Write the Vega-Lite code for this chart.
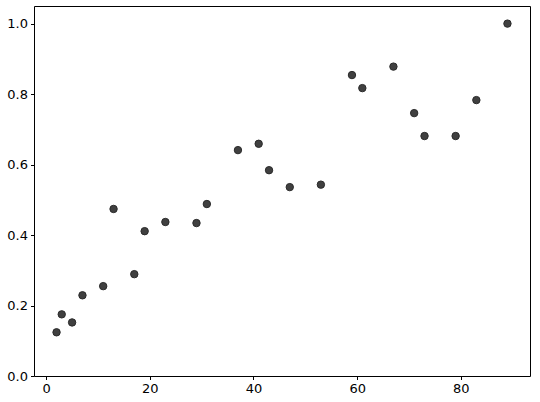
{
  "$schema": "https://vega.github.io/schema/vega-lite/v6.json",
  "autosize": {"type": "none"},
  "width": 496,
  "height": 370,
  "padding": {"left": 34, "top": 6, "right": 10, "bottom": 26},
  "background": "white",
  "config": {
    "view": {"stroke": "black", "strokeWidth": 1},
    "axis": {
      "labelFont": "DejaVu Sans",
      "labelFontSize": 13,
      "labelColor": "black",
      "tickColor": "black",
      "tickSize": 3.5,
      "domain": false,
      "grid": false,
      "title": null,
      "labelPadding": 3
    }
  },
  "data": {
    "values": [
      {"x": 2, "y": 0.124},
      {"x": 3, "y": 0.175},
      {"x": 5, "y": 0.152},
      {"x": 7, "y": 0.229},
      {"x": 11, "y": 0.255},
      {"x": 13, "y": 0.474},
      {"x": 17, "y": 0.289},
      {"x": 19, "y": 0.411},
      {"x": 23, "y": 0.437},
      {"x": 29, "y": 0.434},
      {"x": 31, "y": 0.488},
      {"x": 37, "y": 0.641},
      {"x": 41, "y": 0.659},
      {"x": 43, "y": 0.584},
      {"x": 47, "y": 0.536},
      {"x": 53, "y": 0.543},
      {"x": 59, "y": 0.854},
      {"x": 61, "y": 0.817},
      {"x": 67, "y": 0.878},
      {"x": 71, "y": 0.746},
      {"x": 73, "y": 0.681},
      {"x": 79, "y": 0.681},
      {"x": 83, "y": 0.783},
      {"x": 89, "y": 1.0}
    ]
  },
  "mark": {"type": "circle", "size": 55, "fill": "#404040", "fillOpacity": 1, "stroke": "#2a2a2a", "strokeWidth": 1, "opacity": 1},
  "encoding": {
    "x": {
      "field": "x", "type": "quantitative",
      "scale": {"domain": [-2.35, 93.35], "nice": false, "zero": false},
      "axis": {"values": [0, 20, 40, 60, 80], "format": "d"}
    },
    "y": {
      "field": "y", "type": "quantitative",
      "scale": {"domain": [0, 1.05], "nice": false},
      "axis": {"values": [0, 0.2, 0.4, 0.6, 0.8, 1.0], "format": ".1f"}
    }
  }
}
